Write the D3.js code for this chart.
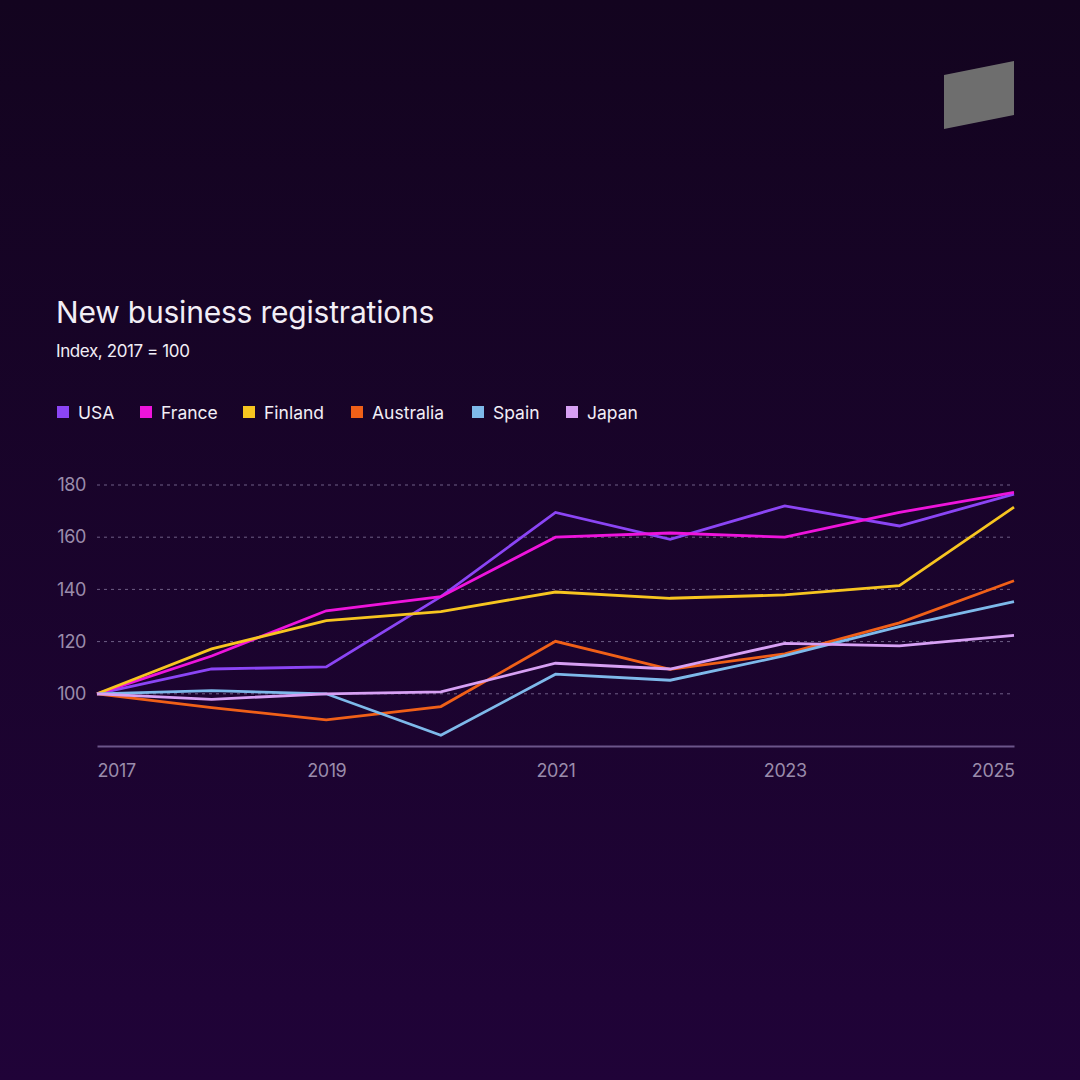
<!DOCTYPE html>
<html>
<head>
<meta charset="utf-8">
<script src="https://cdn.jsdelivr.net/npm/d3@7"></script>
<style>
  html, body { margin: 0; padding: 0; }
  body { width: 1080px; height: 1080px; overflow: hidden; background: #160425; }
  text { font-family: Inter, "Noto Sans", sans-serif; }
</style>
</head>
<body>
<script>
const years = [2017, 2018, 2019, 2020, 2021, 2022, 2023, 2024, 2025];
const yTicks = [100, 120, 140, 160, 180];
const xTicks = [2017, 2019, 2021, 2023, 2025];

const seriesNames = ['USA', 'France', 'Finland', 'Australia', 'Spain', 'Japan'];
const seriesColors = ['#8b45f5', '#ee14dc', '#f7c520', '#f06018', '#7eb9ea', '#d7a0f4'];

const usa       = [100, 109.5, 110.3, 137.2, 169.5, 159.2, 172, 164.3, 176.5];
const france    = [100, 114.5, 131.8, 137.2, 160, 161.6, 160, 169.5, 177.2];
const finland   = [100, 117.2, 128, 131.5, 139, 136.6, 137.9, 141.4, 171.5];
const australia = [100, 94.7, 90, 95.1, 120.1, 109.4, 115.3, 127.2, 143.3];
const spain     = [100, 101.2, 100, 84.1, 107.5, 105.2, 114.6, 125.7, 135.3];
const japan     = [100, 97.9, 100, 100.7, 111.7, 109.5, 119.3, 118.4, 122.4];

const seriesValues = [usa, france, finland, australia, spain, japan];

const width = 1080;
const height = 1080;
const margin = {top: 485, bottom: 334, left: 97, right: 66};

const svg = d3.select('body').append('svg')
    .attr('width', width)
    .attr('height', height);

// background gradient
const defs = svg.append('defs');
const grad = defs.append('linearGradient')
    .attr('id', 'bg')
    .attr('x1', 0).attr('y1', 0).attr('x2', 0).attr('y2', 1);
grad.append('stop').attr('offset', '0%').attr('stop-color', '#13041f');
grad.append('stop').attr('offset', '100%').attr('stop-color', '#200338');
svg.append('rect')
    .attr('width', width)
    .attr('height', height)
    .attr('fill', 'url(#bg)');

// logo
svg.append('polygon')
    .attr('points', '944,75 1014,61 1014,115 944,129')
    .attr('fill', '#6e6e6e');

// title
svg.append('text')
    .attr('x', 56).attr('y', 323)
    .attr('fill', '#f2eef6')
    .attr('font-size', 30)
    .attr('letter-spacing', -0.2)
    .text('New business registrations');

svg.append('text')
    .attr('x', 56).attr('y', 357)
    .attr('fill', '#f2eef6')
    .attr('font-size', 17)
    .attr('letter-spacing', -0.4)
    .text('Index, 2017 = 100');

// legend
const legendX = [57, 140, 243, 351, 472, 566];
const legend = svg.append('g');
seriesNames.forEach((name, i) => {
    const g = legend.append('g').attr('transform', `translate(${legendX[i]}, 412)`);
    g.append('rect')
        .attr('x', 0).attr('y', -6)
        .attr('width', 12).attr('height', 12)
        .attr('fill', seriesColors[i]);
    g.append('text')
        .attr('x', 21).attr('y', 6.5)
        .attr('fill', '#f2eef6')
        .attr('font-size', 17.5)
        .text(name);
});

// scales
const x = d3.scaleLinear()
    .domain([2017, 2025])
    .range([margin.left, width - margin.right]);

const y = d3.scaleLinear()
    .domain([80, 180])
    .range([height - margin.bottom, margin.top]);

// grid
svg.append('g')
    .selectAll('line')
    .data(yTicks)
    .join('line')
        .attr('x1', margin.left)
        .attr('x2', width - margin.right)
        .attr('y1', d => y(d))
        .attr('y2', d => y(d))
        .attr('stroke', '#6f5f86')
        .attr('stroke-width', 1)
        .attr('stroke-dasharray', '3,4');

// y axis labels
svg.append('g').call(yAxis);
// x axis
svg.append('g').call(xAxis);

// lines
const line = d3.line()
    .x((d, i) => x(years[i]))
    .y(d => y(d));

svg.append('g')
    .selectAll('path')
    .data(seriesValues)
    .join('path')
        .attr('d', d => line(d))
        .attr('fill', 'none')
        .attr('stroke', (d, i) => seriesColors[i])
        .attr('stroke-width', 2.8)
        .attr('stroke-linejoin', 'miter');

function yAxis(g) {
    g.attr('transform', `translate(${margin.left - 11}, 0)`)
        .call(d3.axisLeft(y).tickValues(yTicks).tickSize(0).tickPadding(0))
        .call(g => g.select('.domain').remove())
        .call(g => g.selectAll('text')
            .attr('fill', '#9a8cab')
            .attr('font-size', 18)
            .attr('letter-spacing', -0.4)
            .attr('font-family', 'Inter, "Noto Sans", sans-serif'));
}

function xAxis(g) {
    g.attr('transform', `translate(0, ${height - margin.bottom})`)
        .call(d3.axisBottom(x).tickValues(xTicks).tickFormat(d3.format('d')).tickSize(0).tickPadding(18))
        .call(g => g.select('.domain')
            .attr('stroke', '#6b5589')
            .attr('stroke-width', 2))
        .call(g => g.selectAll('text')
            .attr('fill', '#9a8cab')
            .attr('font-size', 18)
            .attr('letter-spacing', -0.4)
            .attr('font-family', 'Inter, "Noto Sans", sans-serif')
            .attr('text-anchor', (d, i) => i === 0 ? 'start' : (i === xTicks.length - 1 ? 'end' : 'middle')));
}
</script>
</body>
</html>
